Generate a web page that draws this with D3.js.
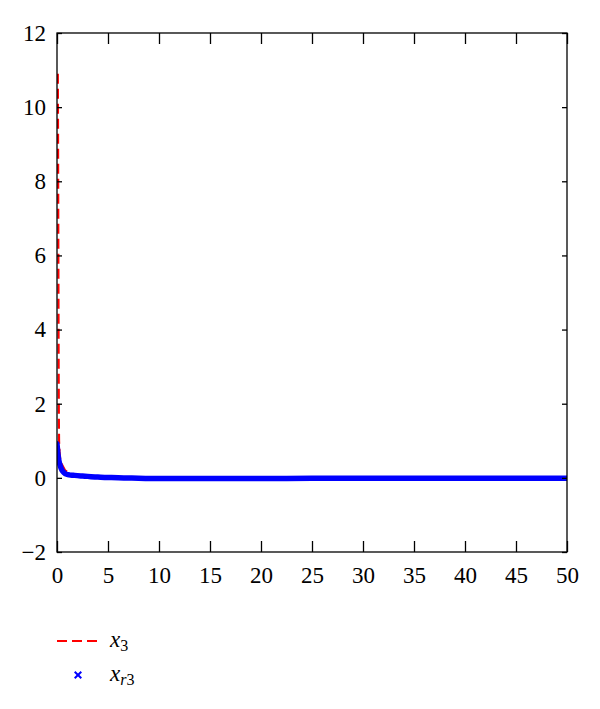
<!DOCTYPE html>
<html>
<head>
<meta charset="utf-8">
<script src="https://cdn.jsdelivr.net/npm/d3@7"></script>
<style>
  body { margin: 0; background: #fff; }
  svg text { font-family: "Liberation Serif", "DejaVu Serif", serif; }
</style>
</head>
<body>
<svg id="chart" width="600" height="709"></svg>
<script>
// x3 (red dashed) - sharp drop right at the start
var x3T = [0.08, 0.1, 0.12, 0.14, 0.16, 0.18, 0.2, 0.25, 0.3, 0.5, 0.8, 1.2, 2, 3, 5, 8, 12, 20, 30, 40, 50];
var x3V = [10.9, 9.5, 7.5, 5.2, 3.0, 1.6, 1.0, 0.7, 0.55, 0.35, 0.2, 0.12, 0.07, 0.05, 0.02, 0.0, -0.02, -0.02, -0.01, -0.01, -0.01];

// xr3 (blue crosses, densely sampled so they merge into a thick band)
var xr3T = [0, 0.1, 0.2, 0.3, 0.4, 0.5, 0.7, 0.9, 1.2, 1.6, 2, 2.5, 3, 4, 5, 6, 8, 10, 12, 15, 20, 25, 30, 35, 40, 45, 50];
var xr3V = [0.92, 0.62, 0.45, 0.34, 0.26, 0.2, 0.14, 0.1, 0.08, 0.07, 0.06, 0.05, 0.04, 0.02, 0.01, 0.0, -0.01, -0.02, -0.02, -0.02, -0.02, -0.01, -0.01, -0.01, -0.01, -0.01, -0.01];

var xTicks = [0, 5, 10, 15, 20, 25, 30, 35, 40, 45, 50];
var yTicks = [-2, 0, 2, 4, 6, 8, 10, 12];

var svg = d3.select("#chart");
var pLeft = 57, pRight = 567, pTop = 33, pBottom = 552;

var x = d3.scaleLinear().domain([0, 50]).range([pLeft, pRight]);
var y = d3.scaleLinear().domain([-2, 12]).range([pBottom, pTop]);

var plot = svg.append("g");
plot.append("defs").append("clipPath").attr("id", "clip")
    .append("rect").attr("x", pLeft).attr("y", pTop)
    .attr("width", pRight - pLeft).attr("height", pBottom - pTop);

// red dashed first, blue band covers its tail
var x3 = x3T.map(function(t, i) { return [t, x3V[i]]; });
plot.append("path")
    .datum(x3)
    .attr("clip-path", "url(#clip)")
    .attr("d", d3.line().x(function(d) { return x(d[0]); }).y(function(d) { return y(d[1]); }))
    .attr("fill", "none")
    .attr("stroke", "#ff0000")
    .attr("stroke-width", 2.2)
    .attr("stroke-dasharray", "10,5");

var xr3 = xr3T.map(function(t, i) { return [t, xr3V[i]]; });
var line = d3.line()
    .x(function(d) { return x(d[0]); })
    .y(function(d) { return y(d[1]); })
    .curve(d3.curveMonotoneX);

plot.append("path")
    .datum(xr3)
    .attr("clip-path", "url(#clip)")
    .attr("d", line)
    .attr("fill", "none")
    .attr("stroke", "#0000ff")
    .attr("stroke-width", 5.5)
    .attr("stroke-linecap", "round");

var cross = d3.symbol().type(d3.symbolX).size(30);

// axes with inward ticks on all four sides
var axB = svg.append("g").attr("transform", "translate(0," + pBottom + ")")
    .call(d3.axisBottom(x).tickValues(xTicks).tickSizeInner(-11).tickSizeOuter(0).tickPadding(15));
var axT = svg.append("g").attr("transform", "translate(0," + pTop + ")")
    .call(d3.axisTop(x).tickValues(xTicks).tickSizeInner(-11).tickSizeOuter(0).tickFormat(""));
var axL = svg.append("g").attr("transform", "translate(" + pLeft + ",0)")
    .call(d3.axisLeft(y).tickValues(yTicks).tickSizeInner(-5).tickSizeOuter(0).tickPadding(11)
        .tickFormat(function(d) { return d < 0 ? "\u2212" + Math.abs(d) : d; }));
var axR = svg.append("g").attr("transform", "translate(" + pRight + ",0)")
    .call(d3.axisRight(y).tickValues(yTicks).tickSizeInner(-5).tickSizeOuter(0).tickFormat(""));

[axB, axT, axL, axR].forEach(function(a) {
    a.selectAll(".domain").remove();
    a.selectAll("line").attr("stroke", "#000").attr("stroke-width", 1.3);
    a.selectAll("text").attr("fill", "#000").style("font-size", "23px");
});

svg.append("rect")
    .attr("x", pLeft).attr("y", pTop)
    .attr("width", pRight - pLeft).attr("height", pBottom - pTop)
    .attr("fill", "none").attr("stroke", "#000").attr("stroke-width", 1.3);

// legend
var lg = svg.append("g");
lg.append("line")
    .attr("x1", 57).attr("x2", 100).attr("y1", 641).attr("y2", 641)
    .attr("stroke", "#ff0000").attr("stroke-width", 2.2).attr("stroke-dasharray", "10,5");
var t1 = lg.append("text").attr("x", 110).attr("y", 647).style("font-size", "23px");
t1.append("tspan").style("font-style", "italic").text("x");
t1.append("tspan").attr("dy", 4).style("font-size", "16px").text("3");

lg.append("path")
    .attr("transform", "translate(78,675)")
    .attr("d", cross)
    .attr("fill", "none").attr("stroke", "#0000ff").attr("stroke-width", 2);
var t2 = lg.append("text").attr("x", 110).attr("y", 681).style("font-size", "23px");
t2.append("tspan").style("font-style", "italic").text("x");
t2.append("tspan").attr("dy", 4).style("font-size", "16px").style("font-style", "italic").text("r");
t2.append("tspan").style("font-size", "16px").text("3");
</script>
</body>
</html>
